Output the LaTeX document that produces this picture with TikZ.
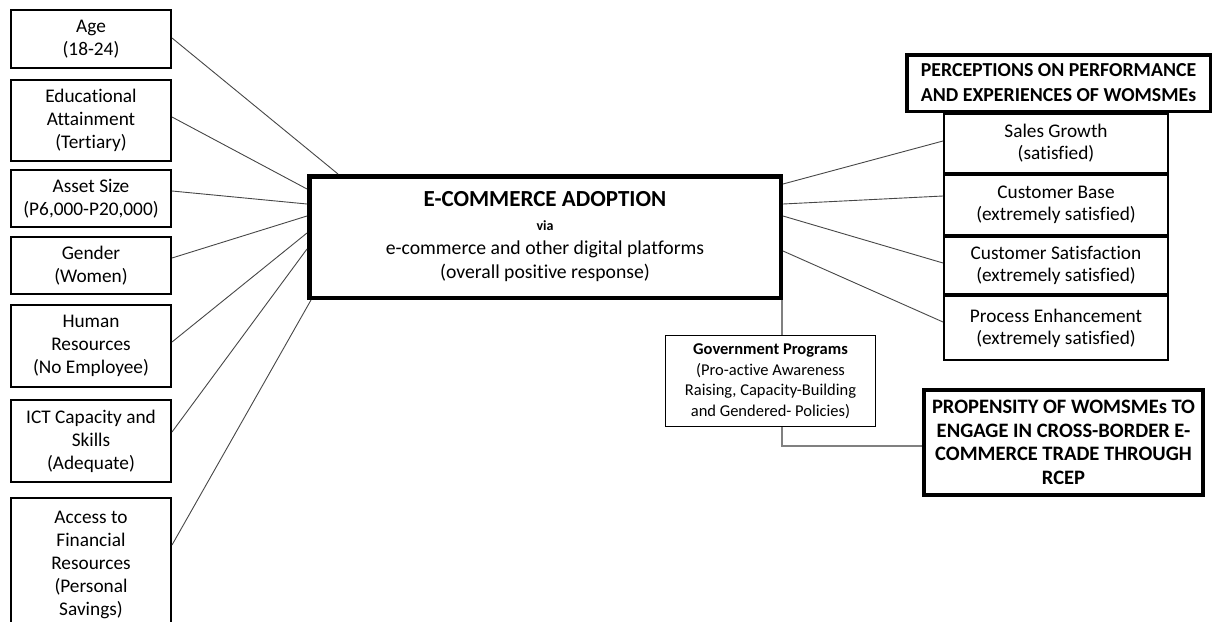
\documentclass[tikz,border=0pt]{standalone}
\usepackage{fontspec}
\setmainfont[Ligatures=NoCommon]{Carlito}
\begin{document}
\begin{tikzpicture}[x=1pt,y=-1pt,
  lbox/.style={draw=black, line width=1.6pt, minimum width=160.4pt, align=center, inner sep=0pt, font=\fontsize{19.3}{23}\selectfont},
  rbox/.style={draw=black, line width=1.6pt, minimum width=224.4pt, align=center, inner sep=0pt, font=\fontsize{19.3}{22}\selectfont},
  conn/.style={draw=black!72, line width=0.9pt},
  gconn/.style={draw=black!50, line width=1.2pt}]
\useasboundingbox (0,0) rectangle (1214,621);
% left factor boxes
\node[lbox, minimum height=58.4pt] (age) at (91,39) {Age\\(18-24)};
\node[lbox, minimum height=81.4pt] (edu) at (91,120.5) {Educational\\Attainment\\(Tertiary)};
\node[lbox, minimum height=57.4pt] (asset) at (91,198.5) {Asset Size\\(P6,000-P20,000)};
\node[lbox, minimum height=57.4pt] (gender) at (91,265.5) {Gender\\(Women)};
\node[lbox, minimum height=82.4pt] (human) at (91,346) {Human\\Resources\\(No Employee)};
\node[lbox, minimum height=82.4pt] (ict) at (91,441) {ICT Capacity and\\Skills\\(Adequate)};
\node[lbox, minimum height=134.4pt] (access) at (91,565) {Access to\\Financial\\Resources\\(Personal\\Savings)};
% central box
\node[draw=black, line width=4.5pt, minimum width=471.5pt, minimum height=121.5pt, align=center, inner sep=0pt, font=\fontsize{19.7}{24}\selectfont] (ecom) at (545,237)
  {{\fontsize{23}{26}\selectfont\bfseries E-COMMERCE ADOPTION}\\
   {\fontsize{14}{17}\selectfont\bfseries via}\\
   e-commerce and other digital platforms\\
   (overall positive response)};
% right boxes
\node[rbox, minimum height=59.4pt] (sales) at (1056,143.5) {Sales Growth\\(satisfied)};
\node[rbox, minimum height=60.4pt] (cbase) at (1056,205) {Customer Base\\(extremely satisfied)};
\node[rbox, minimum height=57.4pt] (csat) at (1056,265.5) {Customer Satisfaction\\(extremely satisfied)};
\node[rbox, minimum height=64.4pt] (proc) at (1056,328) {Process Enhancement\\(extremely satisfied)};
\node[draw=black, fill=white, line width=3.5pt, minimum width=303.5pt, minimum height=56.5pt, align=center, inner sep=0pt, font=\fontsize{19.8}{25}\selectfont\bfseries] (perc) at (1058.5,83)
  {PERCEPTIONS ON PERFORMANCE\\AND EXPERIENCES OF WOMSMEs};
% government programs
\node[draw=black, line width=1.2pt, minimum width=209.8pt, minimum height=90.8pt, align=center, inner sep=0pt, font=\fontsize{16.5}{20.5}\selectfont] (gov) at (770.5,381)
  {\textbf{Government Programs}\\(Pro-active Awareness\\Raising, Capacity-Building\\and Gendered- Policies)};
% propensity
\node[draw=black, line width=4pt, minimum width=279pt, minimum height=105pt, align=center, inner sep=0pt, font=\fontsize{20.5}{23.5}\selectfont\bfseries] (prop) at (1063.5,442.5)
  {PROPENSITY OF WOMSMEs TO\\ENGAGE IN CROSS-BORDER E-\\COMMERCE TRADE THROUGH\\RCEP};
% connectors left
\draw[conn] ([yshift=1pt]age.east) -- ([xshift=31pt]ecom.north west);
\draw[conn] ([yshift=3.5pt]edu.east) -- ([yshift=-15pt]ecom.north west);
\draw[conn] ([yshift=7.5pt]asset.east) -- ([yshift=-30pt]ecom.north west);
\draw[conn] ([yshift=7.5pt]gender.east) -- ([yshift=-42pt]ecom.north west);
\draw[conn] ([yshift=4pt]human.east) -- ([yshift=-59pt]ecom.north west);
\draw[conn] ([yshift=9pt]ict.east) -- ([yshift=-75pt]ecom.north west);
\draw[conn] ([yshift=20pt]access.east) -- ([xshift=4pt]ecom.south west);
% connectors right
\draw[conn] ([yshift=-10pt]ecom.north east) -- ([yshift=2.5pt]sales.west);
\draw[conn] ([yshift=-30pt]ecom.north east) -- ([yshift=9pt]cbase.west);
\draw[conn] ([yshift=-42pt]ecom.north east) -- ([yshift=2.5pt]csat.west);
\draw[conn] ([yshift=-77pt]ecom.north east) -- ([yshift=6pt]proc.west);
% government connectors
\draw[gconn] ([xshift=-1pt]ecom.south east) -- ([xshift=11.5pt]gov.north);
\draw[gconn] ([xshift=11.5pt]gov.south) |- ([yshift=-3.5pt]prop.west);
\end{tikzpicture}
\end{document}
